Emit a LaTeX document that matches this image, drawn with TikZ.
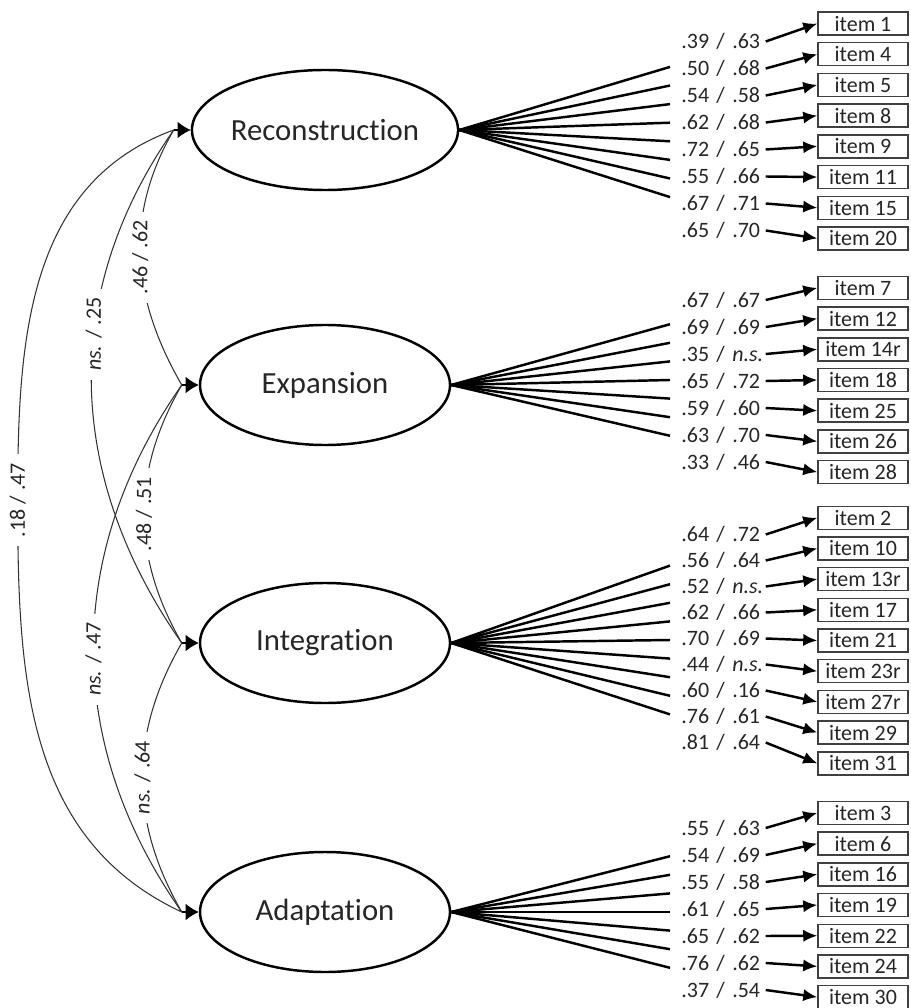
\documentclass[tikz,border=0pt]{standalone}
\usepackage{fontspec}
\setmainfont{Carlito}[Ligatures=NoCommon]
\usetikzlibrary{arrows.meta,shapes.geometric}

\begin{document}
\begin{tikzpicture}[
  factor/.style={ellipse, draw, line width=1.4pt, minimum width=5cm,
                 minimum height=2.4cm, inner sep=0pt,
                 font=\fontsize{17.5}{20}\selectfont, text=black!85},
  itembox/.style={rectangle, draw=black!75, line width=0.8pt,
                  minimum width=1.8cm, minimum height=0.46cm, inner sep=0pt,
                  font=\fontsize{12.5}{14}\selectfont, text=black!85},
  loadlab/.style={anchor=west, text width=1.68cm, align=left, inner sep=0pt,
                  font=\fontsize{12.5}{14}\selectfont, text=black!85},
  covlab/.style={rotate=90, fill=white, inner xsep=5pt, inner ysep=1pt,
                 font=\fontsize{12.5}{14}\selectfont, text=black!85},
  fan/.style={line width=1.4pt},
  arr/.style={-{Latex[length=8pt,width=7pt]}, line width=1.4pt},
  cov/.style={line width=0.6pt, draw=black!80},
  covarr/.style={-{Latex[length=7.5pt,width=9.5pt]}, line width=0.6pt}
]
\useasboundingbox (0,0) rectangle (18.2,-20.16);

% Factors
\node[factor] (recon) at (6.5,-2.6)   {Reconstruction};
\node[factor] (expan) at (6.5,-7.7)   {Expansion};
\node[factor] (integ) at (6.5,-12.86) {Integration};
\node[factor] (adapt) at (6.5,-18.24) {Adaptation};

% Covariance heads
\foreach \f in {recon,expan,integ,adapt}{
  \coordinate (\f-c) at ([xshift=-0.34cm]\f.west);
  \draw[covarr] (\f-c) -- (\f.west);
}

% Covariances
\draw[cov] (recon-c) to[out=240,in=120] node[covlab,pos=.5]{.46 / .62} (expan-c);
\draw[cov] (expan-c) to[out=240,in=120] node[covlab,pos=.5]{.48 / .51} (integ-c);
\draw[cov] (integ-c) to[out=240,in=120] node[covlab,pos=.5]{\textit{ns.} / .64} (adapt-c);
\draw[cov] (recon-c) to[out=235,in=125] node[covlab,pos=.4]{\textit{ns.} / .25} (integ-c);
\draw[cov] (expan-c) to[out=235,in=125] node[covlab,pos=.52]{\textit{ns.} / .47} (adapt-c);
\draw[cov] (recon-c) to[out=200,in=90] ++(-3.12,-7.4) node[covlab]{.18 / .47}
  to[out=-90,in=155] (adapt-c);

% Reconstruction items
\foreach \itm/\lab [count=\i] in {1/{.39 / .63}, 4/{.50 / .68}, 5/{.54 / .58},
    8/{.62 / .68}, 9/{.72 / .65}, 11/{.55 / .66}, 15/{.67 / .71}, 20/{.65 / .70}}{
  \coordinate (recon-f\i) at (13.4, {-2.64+(4.5-\i)*0.372});
  \node[loadlab] (recon-l\i) at (13.62, {-2.72+(4.5-\i)*0.54}) {\lab};
  \node[itembox] (recon-i\i) at (17.26, {-2.62+(4.5-\i)*0.614}) {item \itm};
  \draw[fan] (recon.east) -- (recon-f\i);
  \draw[arr] (recon-l\i.east) -- (recon-i\i.west);
}

% Expansion items
\foreach \itm/\lab [count=\i] in {7/{.67 / .67}, 12/{.69 / .69}, 14r/{.35 / \textit{n.s.}},
    18/{.65 / .72}, 25/{.59 / .60}, 26/{.63 / .70}, 28/{.33 / .46}}{
  \coordinate (expan-f\i) at (13.4, {-7.6+(4-\i)*0.372});
  \node[loadlab] (expan-l\i) at (13.62, {-7.62+(4-\i)*0.54}) {\lab};
  \node[itembox] (expan-i\i) at (17.26, {-7.6+(4-\i)*0.614}) {item \itm};
  \draw[fan] (expan.east) -- (expan-f\i);
  \draw[arr] (expan-l\i.east) -- (expan-i\i.west);
}

% Integration items
\foreach \itm/\lab [count=\i] in {2/{.64 / .72}, 10/{.56 / .64}, 13r/{.52 / \textit{n.s.}},
    17/{.62 / .66}, 21/{.70 / .69}, 23r/{.44 / \textit{n.s.}}, 27r/{.60 / .16},
    29/{.76 / .61}, 31/{.81 / .64}}{
  \coordinate (integ-f\i) at (13.4, {-12.8+(5-\i)*0.372});
  \node[loadlab] (integ-l\i) at (13.62, {-12.77+(5-\i)*0.52}) {\lab};
  \node[itembox] (integ-i\i) at (17.26, {-12.81+(5-\i)*0.614}) {item \itm};
  \draw[fan] (integ.east) -- (integ-f\i);
  \draw[arr] (integ-l\i.east) -- (integ-i\i.west);
}

% Adaptation items
\foreach \itm/\lab [count=\i] in {3/{.55 / .63}, 6/{.54 / .69}, 16/{.55 / .58},
    19/{.61 / .65}, 22/{.65 / .62}, 24/{.76 / .62}, 30/{.37 / .54}}{
  \coordinate (adapt-f\i) at (13.4, {-18.24+(4-\i)*0.372});
  \node[loadlab] (adapt-l\i) at (13.62, {-18.18+(4-\i)*0.54}) {\lab};
  \node[itembox] (adapt-i\i) at (17.26, {-18.1+(4-\i)*0.614}) {item \itm};
  \draw[fan] (adapt.east) -- (adapt-f\i);
  \draw[arr] (adapt-l\i.east) -- (adapt-i\i.west);
}
\end{tikzpicture}
\end{document}
